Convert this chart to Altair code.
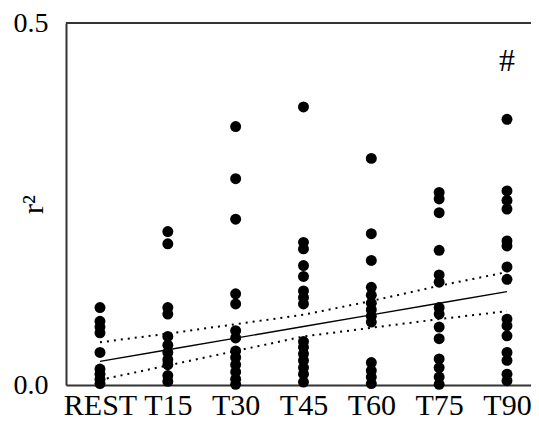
import altair as alt
import pandas as pd

categories = ["REST", "T15", "T30", "T45", "T60", "T75", "T90"]

rest = [0.107, 0.088, 0.080, 0.072, 0.045, 0.022, 0.015, 0.008, 0.002]
t15 = [0.212, 0.195, 0.107, 0.098, 0.067, 0.055, 0.045, 0.035, 0.028, 0.013, 0.005]
t30 = [0.357, 0.285, 0.229, 0.126, 0.112, 0.075, 0.065, 0.047, 0.038, 0.028, 0.018, 0.008, 0.001]
t45 = [0.384, 0.197, 0.188, 0.165, 0.150, 0.130, 0.121, 0.112, 0.060, 0.052, 0.043, 0.034, 0.024, 0.015, 0.004]
t60 = [0.313, 0.209, 0.172, 0.135, 0.124, 0.113, 0.104, 0.095, 0.087, 0.031, 0.020, 0.011, 0.002]
t75 = [0.266, 0.257, 0.238, 0.186, 0.152, 0.142, 0.107, 0.098, 0.080, 0.064, 0.036, 0.024, 0.011, 0.001]
t90 = [0.367, 0.268, 0.255, 0.243, 0.199, 0.192, 0.163, 0.146, 0.091, 0.082, 0.068, 0.045, 0.034, 0.015, 0.006]

fit_line = [0.0327, 0.0487, 0.0647, 0.0808, 0.0968, 0.1129, 0.129]
upper_band = [0.059, 0.071, 0.084, 0.097, 0.116, 0.137, 0.156]
lower_band = [0.007, 0.027, 0.047, 0.067, 0.079, 0.091, 0.102]

marker_label = "#"
marker_value = 0.448

series = [rest, t15, t30, t45, t60, t75, t90]
pts = pd.DataFrame(
    [{"i": i, "r2": v} for i, vals in enumerate(series) for v in vals]
)
lines = pd.DataFrame(
    {"i": list(range(7)), "fit": fit_line, "up": upper_band, "lo": lower_band}
)
mark_df = pd.DataFrame({"i": [6], "v": [marker_value], "t": [marker_label]})

W, H = 465, 362
FONT = "Liberation Serif"
label_expr = "[" + ",".join("'%s'" % c for c in categories) + "][datum.value]"

xscale = alt.Scale(domain=[-0.501, 6.354], nice=False, zero=False)
yscale = alt.Scale(domain=[0, 0.5], nice=False)

xenc = alt.X(
    "i:Q",
    scale=xscale,
    axis=alt.Axis(
        values=list(range(7)),
        labelExpr=label_expr,
        title=None,
        grid=False,
        ticks=False,
        labelFont=FONT,
        labelFontSize=30,
        labelColor="black",
        labelPadding=5,
        domainColor="#333333",
        domainWidth=2,
        labelFlush=False,
        labelOverlap=False,
    ),
)
yaxis = alt.Axis(
    values=[0, 0.5],
    format=".1f",
    title="r²",
    grid=False,
    ticks=False,
    labelFont=FONT,
    labelFontSize=28,
    labelColor="black",
    labelPadding=18,
    domainColor="#333333",
    domainWidth=2,
    titleFont=FONT,
    titleFontSize=30,
    titleFontWeight="normal",
    titleColor="black",
    titleX=-24,
    titleY=181,
    titleAngle=270,
    titleBaseline="alphabetic",
    titleAlign="center",
)

base_l = alt.Chart(lines)
fit = base_l.mark_line(color="black", strokeWidth=1.3).encode(
    x=xenc, y=alt.Y("fit:Q", scale=yscale, axis=yaxis)
)
up = base_l.mark_line(color="black", strokeWidth=2, strokeDash=[2, 5]).encode(
    x="i:Q", y="up:Q"
)
lo = base_l.mark_line(color="black", strokeWidth=2, strokeDash=[2, 5]).encode(
    x="i:Q", y="lo:Q"
)
points = alt.Chart(pts).mark_circle(size=120, color="black", opacity=1).encode(
    x="i:Q", y="r2:Q"
)
hash_text = alt.Chart(mark_df).mark_text(
    font=FONT, fontSize=32, color="black", baseline="middle", align="center"
).encode(x="i:Q", y="v:Q", text="t:N")
top_rule = alt.Chart(mark_df).mark_rule(color="#333333", strokeWidth=2).encode(
    x=alt.value(0), x2=alt.value(W), y=alt.value(0)
)

chart = (
    alt.layer(fit, up, lo, points, hash_text, top_rule)
    .properties(
        width=W,
        height=H,
        autosize="none",
        padding={"left": 58, "top": 15, "right": 0, "bottom": 37},
    )
    .configure_view(stroke=None)
    .configure(background="white")
)

chart.save("out.html", embed_options={"renderer": "svg", "actions": False})
